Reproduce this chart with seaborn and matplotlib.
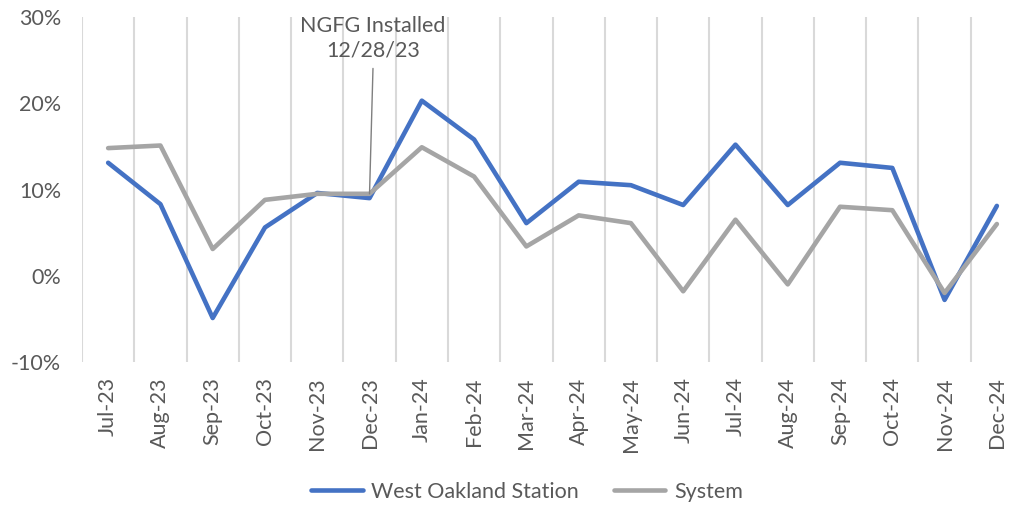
import numpy as np
import pandas as pd
import seaborn as sns
import matplotlib.pyplot as plt

# Monthly change, West Oakland Station vs System (%)
months = ['Jul-23', 'Aug-23', 'Sep-23', 'Oct-23', 'Nov-23', 'Dec-23',
          'Jan-24', 'Feb-24', 'Mar-24', 'Apr-24', 'May-24', 'Jun-24',
          'Jul-24', 'Aug-24', 'Sep-24', 'Oct-24', 'Nov-24', 'Dec-24']
west_oakland = [13.1, 8.3, -4.9, 5.6, 9.6, 9.0, 20.3, 15.8, 6.1, 10.9, 10.5, 8.2,
                15.2, 8.2, 13.1, 12.5, -2.8, 8.1]
system = [14.8, 15.1, 3.1, 8.8, 9.5, 9.5, 14.9, 11.5, 3.4, 7.0, 6.1, -1.8,
          6.5, -1.0, 8.0, 7.6, -2.0, 6.0]
y_ticks = [-10, 0, 10, 20, 30]

df = pd.DataFrame({
    'pos': list(range(len(months))) * 2,
    'value': west_oakland + system,
    'series': ['West Oakland Station'] * len(months) + ['System'] * len(months),
})

sns.set_style('white')
plt.rcParams['font.family'] = ['Lato', 'DejaVu Sans']
text_color = '#595959'
fs = 15.5

fig = plt.figure(figsize=(10.2, 5.05), dpi=100)
ax = fig.add_axes([82 / 1020, 1 - 362 / 505, 941 / 1020, 345 / 505])

sns.lineplot(data=df, x='pos', y='value', hue='series',
             palette={'West Oakland Station': '#4472C4', 'System': '#A5A5A5'},
             linewidth=3.3, ax=ax, legend=True,
             solid_joinstyle='round', solid_capstyle='round')

ax.set_xlim(-0.5, len(months) - 0.5)
ax.set_ylim(-10, 30)
ax.set_xticks(range(len(months)))
ax.set_xticklabels(months, rotation=90, fontsize=fs, color=text_color)
ax.set_xticks(np.arange(-0.5, len(months), 1), minor=True)
ax.set_yticks(y_ticks)
ax.set_yticklabels([f'{t}%' for t in y_ticks], fontsize=fs, color=text_color)
ax.tick_params(axis='both', which='both', length=0)
ax.tick_params(axis='x', pad=11)
ax.tick_params(axis='y', pad=15)
ax.grid(False)
ax.grid(True, axis='x', which='minor', color='#d9d9d9', linewidth=1.5)
ax.set_xlabel('')
ax.set_ylabel('')
for s in ax.spines.values():
    s.set_visible(False)

ax.annotate('NGFG Installed\n12/28/23', xy=(5, system[5]), xytext=(5.07, 24.9),
            ha='center', va='bottom', fontsize=fs, color=text_color,
            linespacing=1.3,
            arrowprops=dict(arrowstyle='-', color='#7f7f7f', lw=1,
                            shrinkA=3, shrinkB=0, relpos=(0.5, 0)))

handles, labels = ax.get_legend_handles_labels()
ax.get_legend().remove()
fig.legend(handles, labels, loc='center', bbox_to_anchor=(527 / 1020, 1 - 492 / 505),
           ncol=2, frameon=False, fontsize=fs, handlelength=2.4,
           columnspacing=1.6, handletextpad=0.4, labelcolor=text_color)

fig.savefig('out.png', dpi=100)
